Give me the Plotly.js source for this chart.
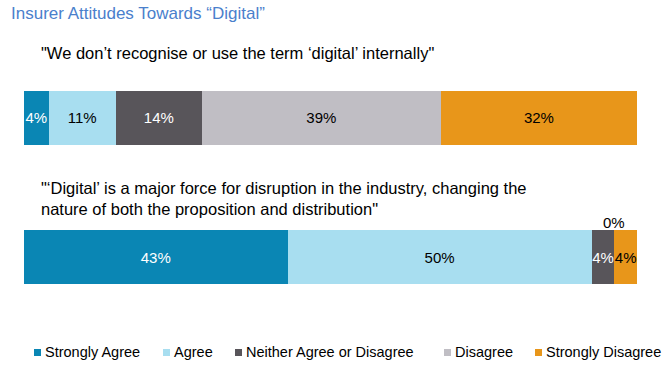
<!DOCTYPE html>
<html>
<head>
<meta charset="utf-8">
<script src="https://cdn.plot.ly/plotly-3.0.1.min.js"></script>
<style>html,body{margin:0;padding:0;background:#fff;}#chart{width:669px;height:371px;}</style>
</head>
<body>
<div id="chart"></div>
<script>
var questions = ['q1', 'q2'];
var questionTexts = [
  '"We don\u2019t recognise or use the term \u2018digital\u2019 internally"',
  '"\u2018Digital\u2019 is a major force for disruption in the industry, changing the<br>nature of both the proposition and distribution"'
];
var seriesNames = ['Strongly Agree', 'Agree', 'Neither Agree or Disagree', 'Disagree', 'Strongly Disagree'];
var strongAgree = [4, 43];
var agree = [11, 49.6];
var neither = [14, 3.7];
var disagree = [39, 0];
var strongDisagree = [32, 3.7];

var seriesValues = [strongAgree, agree, neither, disagree, strongDisagree];
var colors = ['#0a86b4', '#a8def0', '#58555a', '#c0bec4', '#e8961a'];
var textColors = ['#ffffff', '#000000', '#ffffff', '#000000', '#000000'];

var FONT = 'Liberation Sans, Arial, sans-serif';
var W = 669, H = 371;
var M = {l: 24, r: 32, t: 60, b: 51};
var plotW = W - M.l - M.r, plotH = H - M.t - M.b;

var traces = seriesNames.map(function (name, i) {
  return {
    type: 'bar',
    orientation: 'h',
    name: name,
    y: questions,
    x: seriesValues[i],
    width: 0.388,
    marker: {color: colors[i], line: {width: 0}},
    text: seriesValues[i].map(function (v) { return v > 0 ? Math.round(v) + '%' : ''; }),
    textposition: 'inside',
    insidetextanchor: 'middle',
    textangle: 0,
    constraintext: 'none',
    textfont: {family: FONT, size: 15, color: textColors[i]},
    hoverinfo: 'none',
    showlegend: false,
    cliponaxis: false
  };
});

var annotations = [
  {xref: 'paper', yref: 'y', x: 15 / plotW, y: questions[0], yshift: 65, xanchor: 'left', yanchor: 'middle', align: 'left',
   text: questionTexts[0], showarrow: false, font: {family: FONT, size: 16.5, color: '#000'}},
  {xref: 'paper', yref: 'y', x: 15 / plotW, y: questions[1], yshift: 59, xanchor: 'left', yanchor: 'middle', align: 'left',
   text: questionTexts[1], showarrow: false, font: {family: FONT, size: 16.5, color: '#000'}},
  {xref: 'x', yref: 'y', x: strongAgree[1] + agree[1] + neither[1] + disagree[1], y: questions[1], yshift: 35,
   xanchor: 'center', yanchor: 'middle', text: Math.round(disagree[1]) + '%', showarrow: false,
   font: {family: FONT, size: 15, color: '#000'}}
];

// manual legend (swatch + label) along the bottom
var legendX = [34, 163, 235, 444, 535];
var legendY = 352;
var shapes = [];
seriesNames.forEach(function (name, i) {
  var x0 = (legendX[i] - M.l) / plotW, x1 = (legendX[i] + 7 - M.l) / plotW;
  var y0 = (H - M.b - (legendY + 4)) / plotH, y1 = (H - M.b - (legendY - 3)) / plotH;
  shapes.push({type: 'rect', xref: 'paper', yref: 'paper', x0: x0, x1: x1, y0: y0, y1: y1,
               fillcolor: colors[i], line: {width: 0}});
  annotations.push({xref: 'paper', yref: 'paper', x: (legendX[i] + 9 - M.l) / plotW, y: (H - M.b - legendY) / plotH,
                    xanchor: 'left', yanchor: 'middle', text: name, showarrow: false,
                    font: {family: FONT, size: 14.5, color: '#000'}});
});

var layout = {
  width: W, height: H,
  margin: M,
  paper_bgcolor: '#ffffff', plot_bgcolor: '#ffffff',
  barmode: 'stack',
  showlegend: false,
  title: {text: 'Insurer Attitudes Towards \u201cDigital\u201d', x: 11 / W, xanchor: 'left', xref: 'container', y: 1 - 13 / H, yanchor: 'middle',
          font: {family: FONT, size: 17, color: '#4a80cc'}},
  xaxis: {range: [0, 100], visible: false, showgrid: false, zeroline: false, fixedrange: true},
  yaxis: {type: 'category', range: [1.453, -0.417], visible: false, showgrid: false, zeroline: false, fixedrange: true},
  annotations: annotations,
  shapes: shapes,
  font: {family: FONT}
};

Plotly.newPlot('chart', traces, layout, {displayModeBar: false, staticPlot: true});
</script>
</body>
</html>
